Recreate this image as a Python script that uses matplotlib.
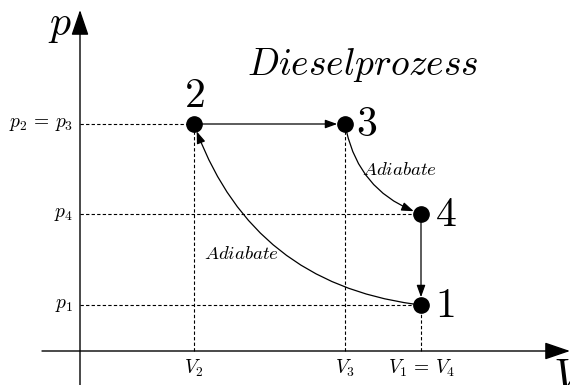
import matplotlib
matplotlib.use("Agg")
import matplotlib.pyplot as plt

plt.rcParams['mathtext.fontset'] = 'cm'
plt.rcParams['font.family'] = 'serif'

# state points of the cycle (arbitrary units, origin at axes crossing)
states = ['1', '2', '3', '4']
V = [341, 114, 265, 341]
p = [46, 227, 227, 137]

vticks = [114, 265, 341]
vlabels = ['$V_2$', '$V_3$', r'$V_1\,=\,V_4$']
pticks = [227, 137, 46]
plabels = [r'$p_2\,=\,p_3$', '$p_4$', '$p_1$']

fig = plt.figure(figsize=(5.7, 3.85), dpi=100)
ax = fig.add_axes([0, 0, 1, 1])
ax.set_xlim(-80, 490)
ax.set_ylim(-34, 351)
ax.axis('off')

# axes with big arrow heads
big = dict(arrowstyle='-|>,head_length=15.8,head_width=5.4', lw=1, color='k',
           shrinkA=0, shrinkB=0, mutation_scale=1)
ax.annotate('', xy=(0, 341), xytext=(0, -40), arrowprops=big)
ax.annotate('', xy=(490, 0), xytext=(-38, 0), arrowprops=big)
ax.text(-8, 327, '$p$', fontsize=30, ha='right', va='center')
ax.text(473, -5, '$V$', fontsize=32, ha='left', va='top')

# dashed helper lines
dash = dict(color='k', lw=0.8, ls=(0, (3, 2)), zorder=1)
ax.plot([0, V[1]], [p[1], p[1]], **dash)
ax.plot([0, V[3]], [p[3], p[3]], **dash)
ax.plot([0, V[0]], [p[0], p[0]], **dash)
ax.plot([V[1], V[1]], [0, p[1]], **dash)
ax.plot([V[2], V[2]], [0, p[2]], **dash)
ax.plot([V[0], V[0]], [0, p[0]], **dash)

for v, lab in zip(vticks, vlabels):
    ax.text(v, -17, lab, fontsize=14, ha='center', va='center')
for pp, lab in zip(pticks, plabels):
    ax.text(-7, pp, lab, fontsize=14, ha='right', va='center')

# process arrows
small = '-|>,head_length=7.2,head_width=2.6'
def step(a, b, rad=0.0):
    ax.annotate('', xy=(V[b], p[b]), xytext=(V[a], p[a]),
                arrowprops=dict(arrowstyle=small, lw=0.9, color='k', mutation_scale=1,
                                shrinkA=5.4, shrinkB=5.6,
                                connectionstyle='arc3,rad=%s' % rad))
step(0, 1, -0.31)
step(1, 2)
step(2, 3, 0.29)
step(3, 0)

ax.plot(V, p, 'o', color='k', ms=11, zorder=5)

# state numbers
ax.text(V[1], 256, '$2$', fontsize=30, ha='center', va='center')
ax.text(V[2] + 11, p[2], '$3$', fontsize=30, ha='left', va='center')
ax.text(V[3] + 14, p[3], '$4$', fontsize=30, ha='left', va='center')
ax.text(V[0] + 14, p[0], '$1$', fontsize=30, ha='left', va='center')

ax.text(320, 181, '$Adiabate$', fontsize=13.5, ha='center', va='center')
ax.text(162, 97, '$Adiabate$', fontsize=13.5, ha='center', va='center')
ax.text(283, 286, '$Dieselprozess$', fontsize=27, ha='center', va='center')

fig.savefig('out.png', dpi=100)
